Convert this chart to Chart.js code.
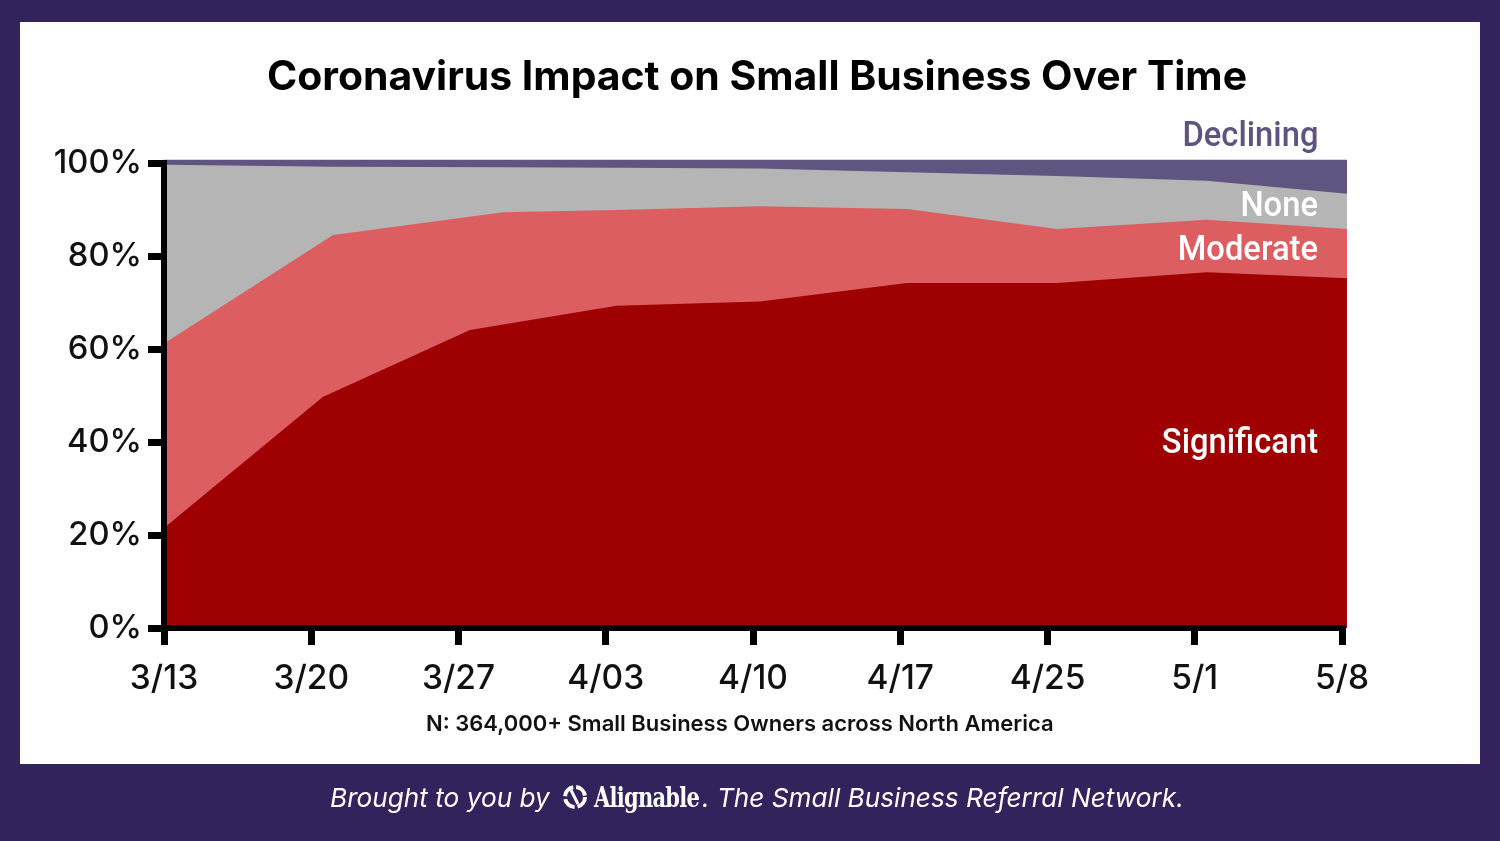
<!DOCTYPE html>
<html lang="en">
<head>
  <meta charset="UTF-8" />
  <title>Coronavirus Impact on Small Business Over Time</title>
  <script src="https://cdn.jsdelivr.net/npm/chart.js"></script>
  <style>
    html, body { margin: 0; padding: 0; }
    body { width: 1500px; height: 841px; background: #32235d; position: relative; overflow: hidden; font-family: Inter, sans-serif; }
    #panel { position: absolute; left: 20px; top: 22px; width: 1460px; height: 742px; background: #fff; }
    #wrap { position: absolute; left: 0; top: 0; width: 1500px; height: 841px; }
    .txt { position: absolute; white-space: nowrap; }
    #title { left: 267px; top: 50px; font: 700 40.9px Inter, sans-serif; color: #000; }
    #note { left: 426px; top: 710px; font: 600 22px Inter, sans-serif; color: #111; }
    .series { right: 182px; font: 500 35px Roboto, sans-serif; color: #fff; transform: scaleX(.935); transform-origin: right center; }
    #footer { left: 330px; top: 782px; color: #fff; font: italic 400 26.2px Inter, sans-serif; }
    #brand { left: 594px; top: 781px; color: #fff; font: 700 28px "DejaVu Serif", serif; transform: scaleX(.75); transform-origin: left center; letter-spacing: -1px; }
    #tag { left: 702px; top: 782px; color: #fff; font: italic 400 26.2px Inter, sans-serif; }
    #logo { position: absolute; left: 563px; top: 785px; }
  </style>
</head>
<body>
  <div id="panel"></div>
  <div id="wrap"><canvas id="impactChart" width="1500" height="841"></canvas></div>
  <div class="txt" id="title">Coronavirus Impact on Small Business Over Time</div>
  <div class="txt series" style="top:114px;color:#5f5380">Declining</div>
  <div class="txt series" style="top:184px">None</div>
  <div class="txt series" style="top:228px">Moderate</div>
  <div class="txt series" style="top:421px">Significant</div>
  <div class="txt" id="note">N: 364,000+ Small Business Owners across North America</div>
  <div class="txt" id="footer">Brought to you by</div>
  <svg id="logo" width="24" height="24" viewBox="0 0 24 24">
    <circle cx="12" cy="12" r="10" fill="none" stroke="#fff" stroke-width="4" stroke-dasharray="13 3" />
    <path d="M8 5 L15 19" stroke="#fff" stroke-width="3" />
  </svg>
  <div class="txt" id="brand">Alignable</div>
  <div class="txt" id="tag">. The Small Business Referral Network.</div>

  <script>
    // survey dates, one per week tick
    const dates = ['3/13', '3/20', '3/27', '4/03', '4/10', '4/17', '4/25', '5/1', '5/8'];
    const yTicks = [0, 20, 40, 60, 80, 100];

    // the bands bend slightly off the ticks, so each has its own week positions
    const significantWeeks = [0, 1.078, 2.078, 3.074, 4.047, 5.046, 6.064, 7.083, 8.034];
    const significantTop = [21.5, 49.7, 64.1, 69.3, 70.2, 74.2, 74.2, 76.5, 75.2];

    const moderateWeeks = [0, 1.148, 2.302, 3.074, 4.047, 5.046, 6.064, 7.083, 8.034];
    const moderateTop = [61.2, 84.5, 89.4, 89.9, 90.7, 90.1, 85.8, 87.8, 85.8];

    const noneWeeks = [0, 1.148, 2.302, 3.074, 4.047, 5.046, 6.064, 7.083, 8.034];
    const noneTop = [99.6, 99.2, 99.1, 99.0, 98.8, 98.0, 97.2, 96.2, 93.4];

    const decliningWeeks = [0, 8.034];
    const decliningTop = [100.7, 100.7];

    const points = (xs, ys) => xs.map((x, i) => ({ x, y: ys[i] }));
    const band = (label, xs, ys, color) => ({
      label,
      data: points(xs, ys),
      backgroundColor: color,
      borderWidth: 0,
      pointRadius: 0,
      fill: 'origin',
      clip: false,
      tension: 0
    });

    // the bands run a little past the last ticks, filler clips to chartArea
    const widerFillArea = {
      id: 'widerFillArea',
      beforeDatasetsDraw(chart) {
        chart.chartArea.right += 6;
        chart.chartArea.top -= 4;
      },
      afterDatasetsDraw(chart) {
        chart.chartArea.right -= 6;
        chart.chartArea.top += 4;
      }
    };

    new Chart(document.getElementById('impactChart'), {
      type: 'line',
      plugins: [widerFillArea],
      data: {
        // first dataset is painted last
        datasets: [
          band('Significant', significantWeeks, significantTop, '#9f0002'),
          band('Moderate', moderateWeeks, moderateTop, '#dd5e60'),
          band('None', noneWeeks, noneTop, '#b5b5b5'),
          band('Declining', decliningWeeks, decliningTop, '#605480')
        ]
      },
      options: {
        responsive: false,
        animation: false,
        layout: { padding: { left: 0, right: 158, top: 163, bottom: 113 } },
        plugins: { legend: { display: false }, tooltip: { enabled: false } },
        scales: {
          x: {
            type: 'linear',
            min: 0,
            max: 8,
            afterFit: s => { s.height = 100; },
            border: { color: '#000', width: 6, z: 1 },
            grid: { drawOnChartArea: false, color: '#000', lineWidth: 7, tickLength: 17 },
            ticks: {
              stepSize: 1,
              maxRotation: 0,
              autoSkip: false,
              padding: 14,
              color: '#111',
              font: { family: 'Inter', size: 33.5, weight: '500' },
              callback: v => dates[v]
            }
          },
          y: {
            min: 0,
            max: 100,
            afterBuildTicks: s => { s.ticks = yTicks.map(value => ({ value })); },
            afterFit: s => { s.width = 164; },
            border: { color: '#000', width: 6, z: 1 },
            grid: { drawOnChartArea: false, color: '#000', lineWidth: 7, tickLength: 16 },
            ticks: {
              padding: 6,
              color: '#111',
              font: { family: 'Inter', size: 32.7, weight: '500' },
              callback: v => v + '%'
            }
          }
        }
      }
    });
  </script>
</body>
</html>
